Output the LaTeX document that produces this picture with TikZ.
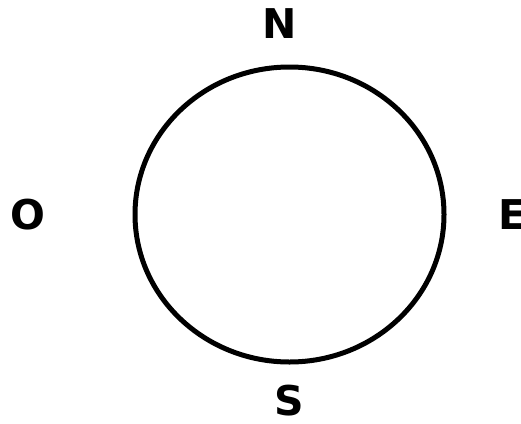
\documentclass[tikz,border=0pt]{standalone}
\usepackage{fontspec}
\setmainfont{DejaVu Sans}
\usetikzlibrary{positioning,shapes.geometric}
\tikzset{
  dial/.style={draw=black, line width=5pt, ellipse, inner sep=0pt, outer sep=0pt, minimum width=309pt, minimum height=295pt},
  cardinal/.style={inner sep=0pt, outer sep=0pt, font=\fontsize{41}{41}\selectfont\bfseries}
}
\begin{document}
\begin{tikzpicture}[x=1pt, y=-1pt]
\useasboundingbox (0,0) rectangle (521,423);
\node[dial] (compass) at (289.5,214.5) {};
\node[cardinal, above=29pt of compass, xshift=-10pt] (north) {N};
\node[cardinal, below=23pt of compass] (south) {S};
\node[cardinal, left=90pt of compass] (west) {O};
\node[cardinal, right=54pt of compass] (east) {E};
\end{tikzpicture}
\end{document}
